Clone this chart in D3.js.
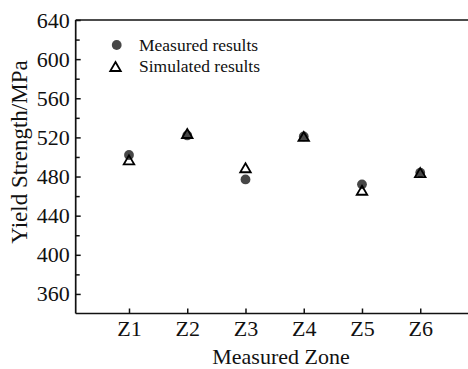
<!DOCTYPE html>
<html>
<head>
<meta charset="utf-8">
<script src="https://cdn.jsdelivr.net/npm/d3@7"></script>
<style>
  html, body { margin: 0; padding: 0; background: #fff; }
  svg { display: block; }
  text { font-family: "Liberation Serif", "Times New Roman", serif; fill: #111; }
</style>
</head>
<body>
<svg id="chart" width="468" height="369"></svg>
<script>
const zones = ["Z1", "Z2", "Z3", "Z4", "Z5", "Z6"];
const measured = [502, 522, 477, 521, 472, 484];
const simulated = [497, 524, 489, 521, 466, 484];
const yMajorTicks = [360, 400, 440, 480, 520, 560, 600, 640];
const yMinorTicks = [380, 420, 460, 500, 540, 580, 620];
const legendLabels = ["Measured results", "Simulated results"];

const svg = d3.select("#chart");
const pL = 75.7, pR = 468, pT = 20, pB = 313.5;

const x = d3.scaleLinear().domain([0.085, 6.82]).range([pL, pR]);
const y = d3.scaleLinear().domain([340, 640]).range([pB, pT]);

// Axis frame
const frame = svg.append("g").attr("stroke", "#111").attr("stroke-width", 1.7).attr("fill", "none");
frame.append("line").attr("x1", pL).attr("x2", pL).attr("y1", pT).attr("y2", pB);
frame.append("line").attr("x1", pL).attr("x2", pR).attr("y1", pB).attr("y2", pB);
frame.append("line").attr("x1", pL).attr("x2", pR).attr("y1", pT).attr("y2", pT);

// Y axis (inward ticks)
const yAxis = d3.axisLeft(y).tickValues(yMajorTicks).tickSize(-5).tickPadding(6).tickFormat(d3.format("d"));
const gy = svg.append("g").attr("transform", `translate(${pL},0)`).call(yAxis);
gy.select(".domain").remove();
gy.selectAll(".tick line").attr("stroke", "#111").attr("stroke-width", 1.5);
gy.selectAll(".tick text").style("font-size", "22px").attr("fill", "#111")
  .style("font-family", "'Liberation Serif', serif");
const gyMinor = svg.append("g").attr("transform", `translate(${pL},0)`)
  .call(d3.axisLeft(y).tickValues(yMinorTicks).tickSize(-4).tickFormat(""));
gyMinor.select(".domain").remove();
gyMinor.selectAll(".tick line").attr("stroke", "#111").attr("stroke-width", 1.5);

// X axis (inward ticks)
const xAxis = d3.axisBottom(x).tickValues(d3.range(1, zones.length + 1)).tickSize(-5).tickPadding(7)
  .tickFormat(d => zones[d - 1]);
const gx = svg.append("g").attr("transform", `translate(0,${pB})`).call(xAxis);
gx.select(".domain").remove();
gx.selectAll(".tick line").attr("stroke", "#111").attr("stroke-width", 1.5);
gx.selectAll(".tick text").style("font-size", "22px").attr("fill", "#111")
  .style("font-family", "'Liberation Serif', serif");

// Axis titles
svg.append("text").attr("x", 281).attr("y", 363.5).attr("text-anchor", "middle")
  .style("font-size", "22px").text("Measured Zone");
svg.append("text").attr("transform", "translate(27,152) rotate(-90)").attr("text-anchor", "middle")
  .style("font-size", "23px").text("Yield Strength/MPa");

// Triangle symbol path (bbox centered)
function tri(cx, cy, w, h) {
  return `M${cx},${cy - h / 2}L${cx + w / 2},${cy + h / 2}L${cx - w / 2},${cy + h / 2}Z`;
}

// Measured points
svg.append("g").selectAll("circle").data(measured).join("circle")
  .attr("cx", (d, i) => x(i + 1)).attr("cy", d => y(d)).attr("r", 4.9)
  .attr("fill", "#474747");

// Simulated points
svg.append("g").selectAll("path").data(simulated).join("path")
  .attr("d", (d, i) => tri(x(i + 1), y(d), 10.5, 9))
  .attr("fill", "none").attr("stroke", "#000").attr("stroke-width", 1.8)
  .attr("stroke-linejoin", "miter");

// Legend
const lg = svg.append("g");
lg.append("circle").attr("cx", 116.7).attr("cy", 45).attr("r", 4.9).attr("fill", "#474747");
lg.append("path").attr("d", tri(115.5, 66.5, 10.5, 9)).attr("fill", "none")
  .attr("stroke", "#000").attr("stroke-width", 1.8);
lg.append("text").attr("x", 139).attr("y", 50.5).style("font-size", "17.5px").text(legendLabels[0]);
lg.append("text").attr("x", 139).attr("y", 72).style("font-size", "17.5px").text(legendLabels[1]);
</script>
</body>
</html>
